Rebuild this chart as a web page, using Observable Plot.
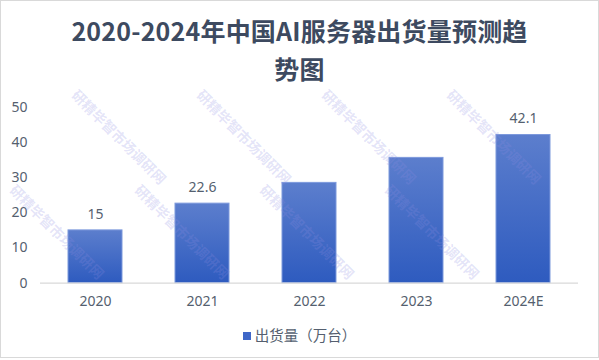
<!DOCTYPE html>
<html><head><meta charset="utf-8">
<script src="https://cdn.jsdelivr.net/npm/d3@7"></script>
<script src="https://cdn.jsdelivr.net/npm/@observablehq/plot@0.6"></script>
<style>
html,body{margin:0;padding:0;background:#fff;}
#wrap{position:relative;width:599px;height:360px;overflow:hidden;font-family:"Noto Sans CJK SC","Noto Sans",sans-serif;}
#frame{position:absolute;left:0;top:0;width:597px;height:356px;border:1px solid #d9d9d9;pointer-events:none;z-index:3;}
#title{height:90px;box-sizing:border-box;padding-top:11px;text-align:center;font-weight:bold;font-size:25px;line-height:38px;color:#3d4a60;letter-spacing:0.2px;}
#chart{height:230px;}
#legend{height:40px;display:flex;justify-content:center;align-items:center;padding-bottom:11px;box-sizing:border-box;font-size:14.5px;color:#555f6f;}
#legend .sw{width:8px;height:8px;background:#3f67c8;margin-right:4px;margin-top:2px;}
#wm{position:absolute;left:0;top:0;width:599px;height:360px;pointer-events:none;z-index:2;}
#wm span{position:absolute;font-size:14px;color:rgba(140,140,225,0.24);transform:rotate(45deg);transform-origin:0 0;white-space:nowrap;font-weight:bold;}
</style></head>
<body>
<div id="wrap">
  <div id="title">2020-2024年中国AI服务器出货量预测趋<br>势图</div>
  <div id="chart"></div>
  <div id="legend"><div class="sw"></div><span>出货量（万台）</span></div>
  <div id="wm"></div>
  <div id="frame"></div>
</div>
<script>
const years = ["2020", "2021", "2022", "2023", "2024E"];
const shipments = [15, 22.6, 28.5, 35.6, 42.1];
const valueLabels = ["15", "22.6", "", "", "42.1"];
const yTicks = [0, 10, 20, 30, 40, 50];
const legendLabel = "出货量（万台）";
const watermarkText = "研精毕智市场调研网";

const data = years.map((y, i) => ({year: y, value: shipments[i], label: valueLabels[i]}));
const textColor = "#555f6f";

const gradientDefs = () => {
  const defs = d3.create("svg:defs");
  const g = defs.append("linearGradient").attr("id", "barGrad").attr("x1", 0).attr("y1", 0).attr("x2", 0).attr("y2", 1);
  g.append("stop").attr("offset", "0%").attr("stop-color", "#5c7ecd");
  g.append("stop").attr("offset", "100%").attr("stop-color", "#2e5bbf");
  return defs.node();
};

const chart = Plot.plot({
  width: 599,
  height: 230,
  marginTop: 16.7,
  marginBottom: 37.3,
  marginLeft: 40,
  marginRight: 21,
  style: {fontFamily: '"Noto Sans","Noto Sans CJK SC",sans-serif', fontSize: "14px", color: textColor, background: "transparent"},
  x: {domain: years, paddingInner: 0.5, paddingOuter: 0.25, label: null, tickSize: 0, tickPadding: 13},
  y: {domain: [0, 50], ticks: yTicks, label: null, tickSize: 0, tickPadding: 13},
  marks: [
    gradientDefs,
    Plot.barY(data, {x: "year", y: "value", fill: "url(#barGrad)", stroke: "#7d99dc", strokeWidth: 1}),
    Plot.ruleY([0], {stroke: "#d9d9d9", strokeWidth: 1.2}),
    Plot.text(data.filter(d => d.label), {x: "year", y: "value", text: "label", dy: -16, fill: textColor, fontSize: 14}),
    Plot.axisX({tickSize: 0, tickPadding: 13, fontSize: 14, fill: textColor, label: null}),
    Plot.axisY({ticks: yTicks, tickSize: 0, tickPadding: 13, fontSize: 14, fill: textColor, label: null})
  ]
});
document.getElementById("chart").appendChild(chart);
document.querySelector("#legend span").textContent = legendLabel;

// watermark tiling (decoration), only copies that fit fully inside the frame
const wm = document.getElementById("wm");
for (let r = -2; r < 6; r++) {
  for (let c = -1; c < 7; c++) {
    const left = c * 125 + (r % 2 ? 62 : 0) + 20;
    const top = r * 95 - 10;
    if (left - 14 < 2 || left + 95 > 597 || top < 2 || top + 102 > 356) continue;
    const s = document.createElement("span");
    s.textContent = watermarkText;
    s.style.left = left + "px";
    s.style.top = top + "px";
    wm.appendChild(s);
  }
}
</script>
</body></html>
